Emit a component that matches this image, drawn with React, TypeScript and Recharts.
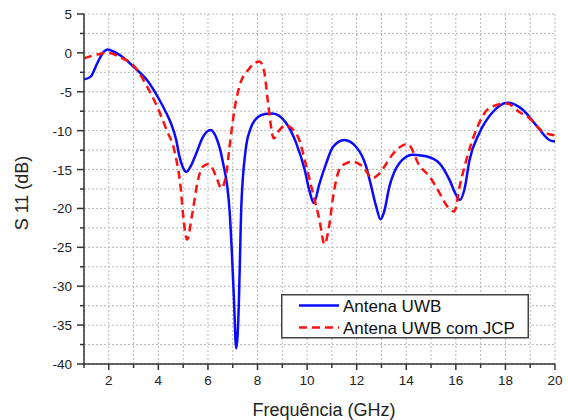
import React from 'react';
import { LineChart, Line, XAxis, YAxis, CartesianGrid, Legend, Label } from 'recharts';

// Antena UWB
const uwbFreq = [1.0, 1.27, 1.54, 1.8, 1.95, 2.3, 2.7, 3.0, 3.54, 4.0, 4.33, 4.5, 4.72, 4.85, 5.0, 5.12, 5.3, 5.53, 5.8, 6.1, 6.35, 6.6, 6.87, 6.96, 7.05, 7.14, 7.25, 7.3, 7.34, 7.52, 7.7, 8.0, 8.3, 8.6, 9.16, 9.56, 9.9, 10.1, 10.27, 10.5, 10.77, 11.04, 11.5, 11.98, 12.38, 12.52, 12.79, 12.96, 13.1, 13.32, 13.72, 14.26, 14.8, 15.34, 15.74, 16.0, 16.17, 16.35, 16.55, 16.95, 17.49, 18.08, 18.7, 19.24, 19.77, 20.0];
const uwbS11 = [-3.4, -3.05, -1.3, 0.15, 0.45, 0.0, -0.9, -1.8, -3.5, -5.8, -7.8, -9.0, -11.2, -13.3, -14.8, -15.3, -14.6, -12.9, -10.8, -9.9, -11.0, -14.0, -20.2, -25.3, -31.8, -38.0, -31.8, -25.3, -20.2, -12.5, -9.9, -8.3, -7.85, -7.8, -9.05, -11.6, -15.0, -17.8, -19.3, -16.8, -14.2, -12.1, -11.2, -12.1, -14.6, -16.3, -19.8, -21.4, -20.5, -17.2, -14.2, -13.1, -13.3, -14.2, -16.3, -18.2, -18.9, -17.5, -13.8, -10.3, -7.6, -6.4, -7.3, -9.3, -11.2, -11.4];

// Antena UWB com JCP
const jcpFreq = [1.0, 1.54, 1.95, 2.43, 3.1, 3.54, 3.95, 4.33, 4.67, 4.92, 4.99, 5.16, 5.35, 5.6, 5.8, 6.04, 6.33, 6.54, 6.74, 6.87, 7.07, 7.27, 7.67, 8.08, 8.28, 8.41, 8.66, 8.89, 9.13, 9.63, 9.97, 10.23, 10.5, 10.7, 10.9, 11.05, 11.3, 11.57, 11.84, 12.24, 12.64, 12.92, 13.12, 13.46, 14.06, 14.53, 14.94, 15.34, 15.67, 15.94, 16.15, 16.42, 16.82, 17.35, 18.04, 18.56, 18.97, 19.5, 20.0];
const jcpS11 = [-0.7, -0.2, 0.0, -0.5, -2.0, -4.3, -6.9, -9.9, -12.9, -18.0, -20.6, -24.0, -21.0, -16.3, -14.6, -14.3, -15.9, -17.4, -15.5, -12.1, -7.3, -4.3, -2.0, -1.1, -2.6, -6.05, -11.0, -9.9, -9.3, -10.8, -14.6, -18.0, -21.5, -24.6, -22.0, -18.5, -15.0, -14.2, -14.0, -14.6, -16.1, -15.5, -14.6, -13.0, -11.7, -14.5, -15.9, -18.0, -19.8, -20.4, -17.2, -13.8, -9.9, -7.1, -6.5, -7.6, -8.4, -10.1, -10.6];

const xTicks = [1, 2, 3, 4, 5, 6, 7, 8, 9, 10, 11, 12, 13, 14, 15, 16, 17, 18, 19, 20];
const yTicks = [-40, -37.5, -35, -32.5, -30, -27.5, -25, -22.5, -20, -17.5, -15, -12.5, -10, -7.5, -5, -2.5, 0, 2.5, 5];
const seriesNames = ['Antena UWB', 'Antena UWB com JCP'];
const xTitle = 'Frequência (GHz)';
const yTitle = 'S 11 (dB)';

const uwbData = uwbFreq.map((f, i) => ({ f, s11: uwbS11[i] }));
const jcpData = jcpFreq.map((f, i) => ({ f, s11: jcpS11[i] }));

const FONT = '"Liberation Sans", Arial, Helvetica, sans-serif';
const BLUE = '#0a0aff';
const RED = '#ff1010';

const XTick = (props: any) => {
  const { x, y, payload } = props;
  const v = payload.value;
  const major = v % 2 === 0;
  return (
    <g>
      <line x1={x} x2={x} y1={y} y2={y + (major ? 6 : 4)} stroke="#333" strokeWidth={1.5} />
      {major && (
        <text x={x} y={y + 21} textAnchor="middle" fontSize={13.5} fill="#222" fontFamily={FONT}>
          {v}
        </text>
      )}
    </g>
  );
};

const YTick = (props: any) => {
  const { x, y, payload } = props;
  const v = payload.value;
  const major = v % 5 === 0;
  return (
    <g>
      <line x1={x - (major ? 7 : 4)} x2={x} y1={y} y2={y} stroke="#333" strokeWidth={1.5} />
      {major && (
        <text x={x - 12} y={y + 5} textAnchor="end" fontSize={13.5} fill="#222" fontFamily={FONT}>
          {v}
        </text>
      )}
    </g>
  );
};

const LegendBox = () => (
  <svg width={248} height={45} style={{ display: 'block' }}>
    <rect x={0.75} y={0.75} width={246.5} height={43} fill="#fff" stroke="#444" strokeWidth={1.5} />
    <line x1={18} x2={58} y1={11.5} y2={11.5} stroke={BLUE} strokeWidth={2.5} />
    <line x1={18} x2={58} y1={33.5} y2={33.5} stroke={RED} strokeWidth={2.5} strokeDasharray="8 5" />
    <text x={62} y={17.5} fontSize={17} fill="#111" fontFamily={FONT}>{seriesNames[0]}</text>
    <text x={62} y={39.5} fontSize={17} fill="#111" fontFamily={FONT}>{seriesNames[1]}</text>
  </svg>
);

export default function App() {
  return (
    <div style={{ position: 'absolute', left: 0, top: 0, background: '#fff' }}>
      <LineChart width={568} height={420} margin={{ top: 14, right: 13, bottom: 0, left: 0 }}>
        <CartesianGrid xAxisId={0} yAxisId={0} stroke="#b8b8b8" strokeDasharray="2 2" strokeWidth={1} />
        <XAxis
          xAxisId={0}
          dataKey="f"
          type="number"
          domain={[1, 20]}
          ticks={xTicks}
          interval={0}
          allowDataOverflow
          height={56}
          tickSize={0}
          tickMargin={0}
          tickLine={false}
          tick={<XTick />}
          axisLine={{ stroke: '#333', strokeWidth: 1.5 }}
        >
          <Label
            content={(p: any) => {
              const vb = p.viewBox;
              return (
                <text x={vb.x + vb.width / 2 + 4.5} y={vb.y + 52} textAnchor="middle" fontSize={18} fill="#222" fontFamily={FONT}>
                  {xTitle}
                </text>
              );
            }}
          />
        </XAxis>
        <XAxis xAxisId="top" orientation="top" type="number" domain={[1, 20]} height={0} tick={false} tickLine={false} axisLine={{ stroke: '#666', strokeWidth: 2 }} />
        <YAxis
          yAxisId={0}
          type="number"
          domain={[-40, 5]}
          ticks={yTicks}
          interval={0}
          allowDataOverflow
          width={84}
          tickSize={0}
          tickMargin={0}
          tickLine={false}
          tick={<YTick />}
          axisLine={{ stroke: '#333', strokeWidth: 1.5 }}
        >
          <Label
            content={(p: any) => {
              const vb = p.viewBox;
              const cx = 28;
              const cy = vb.y + vb.height / 2 + 4;
              return (
                <text x={cx} y={cy} textAnchor="middle" fontSize={18} fill="#222" fontFamily={FONT} transform={`rotate(-90, ${cx}, ${cy})`}>
                  {yTitle}
                </text>
              );
            }}
          />
        </YAxis>
        <YAxis yAxisId="right" orientation="right" type="number" domain={[-40, 5]} width={0} tick={false} tickLine={false} axisLine={{ stroke: '#666', strokeWidth: 2 }} />
        <Line
          data={uwbData}
          dataKey="s11"
          name={seriesNames[0]}
          type="monotone"
          stroke={BLUE}
          strokeWidth={2.5}
          dot={false}
          activeDot={false}
          isAnimationActive={false}
        />
        <Line
          data={jcpData}
          dataKey="s11"
          name={seriesNames[1]}
          type="monotone"
          stroke={RED}
          strokeWidth={2.5}
          strokeDasharray="8 5"
          dot={false}
          activeDot={false}
          isAnimationActive={false}
        />
        <Legend
          layout="vertical"
          align="center"
          verticalAlign="middle"
          content={<LegendBox />}
          wrapperStyle={{ left: 281, top: 294, width: 248, height: 45, right: 'auto', bottom: 'auto', margin: 0 }}
        />
      </LineChart>
    </div>
  );
}
